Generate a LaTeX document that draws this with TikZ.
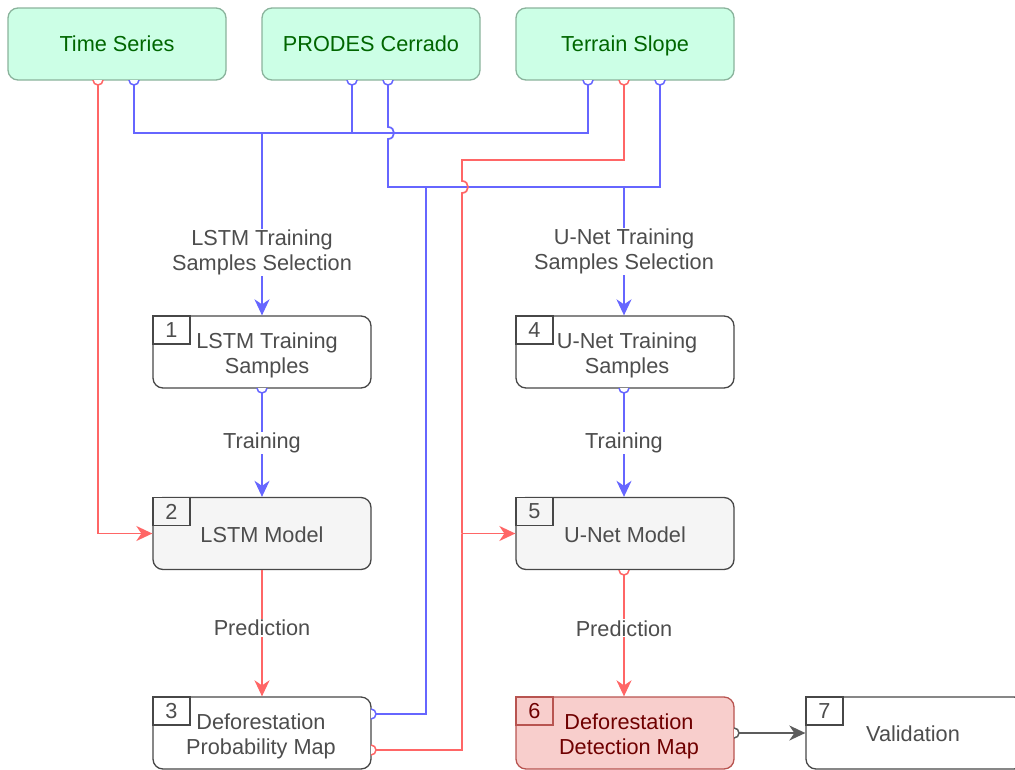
\documentclass[tikz,border=0pt]{standalone}
\usepackage{fontspec}
\setmainfont{Liberation Sans}
\usetikzlibrary{arrows.meta}
\definecolor{gfill}{HTML}{CCFFE6}
\definecolor{gdraw}{HTML}{8AB39C}
\definecolor{gtext}{HTML}{006600}
\definecolor{bline}{HTML}{6666FF}
\definecolor{rline}{HTML}{FF6666}
\definecolor{txt}{HTML}{4D4D4D}
\definecolor{bord}{HTML}{474747}
\definecolor{lgray}{HTML}{F5F5F5}
\definecolor{rfill}{HTML}{F8CECC}
\definecolor{rdraw}{HTML}{B85450}
\definecolor{rtext}{HTML}{6F0000}
\definecolor{garrow}{HTML}{5C5C5C}
\tikzset{
  boxbase/.style={rectangle, rounded corners=10pt, minimum width=218pt, minimum height=72pt, line width=1.3pt, align=center, font=\fontsize{21.7}{25}\selectfont, inner sep=0pt, text height=15.5pt, text depth=0pt},
  srcbox/.style={boxbase, fill=gfill, draw=gdraw, text=gtext},
  procbox/.style={boxbase, fill=white, draw=bord, text=txt},
  modelbox/.style={boxbase, fill=lgray, draw=bord, text=txt},
  outbox/.style={boxbase, fill=rfill, draw=rdraw, text=rtext},
  numbox/.style={rectangle, anchor=north west, minimum width=37pt, minimum height=28pt, line width=1.3pt, inner sep=0pt, font=\fontsize{21.7}{25}\selectfont},
  conn/.style={line width=1.7pt},
  arrtip/.style={-{Stealth[length=16pt,width=15pt,inset=5pt]}},
  lab/.style={fill=white, text=txt, align=center, font=\fontsize{21.7}{25}\selectfont, inner sep=1pt},
  portc/.style={circle, minimum size=10pt, inner sep=0pt, line width=1.5pt, fill=white},
  boxtext/.style={align=center, font=\fontsize{21.7}{25}\selectfont},
  onetext/.style={boxtext, text height=15.5pt, text depth=0pt}
}
\begin{document}
\begin{tikzpicture}[x=1pt,y=-1pt]
\useasboundingbox (0,0) rectangle (1015,769);
\clip (0,0) rectangle (1015,769);
% port coordinates
\coordinate (pTSr) at (98,80);
\coordinate (pTSb) at (134,80);
\coordinate (pPRa) at (352,80);
\coordinate (pPRb) at (388,80);
\coordinate (pTEa) at (588,80);
\coordinate (pTEr) at (624,80);
\coordinate (pTEc) at (660,80);
\coordinate (j1) at (262,133);
\coordinate (j2) at (624,187);
\coordinate (j3) at (426,187);
\coordinate (k1) at (388,127);
\coordinate (k2) at (388,139);
\coordinate (r1) at (462,160);
\coordinate (r2) at (462,181);
\coordinate (r3) at (462,193);
\coordinate (j4) at (462,533.5);
\coordinate (j5) at (98,533.5);
\coordinate (pB1) at (262,388);
\coordinate (pB1s) at (262,393);
\coordinate (pB2) at (262,570);
\coordinate (pB3b) at (371,714);
\coordinate (pB3r) at (371,750);
\coordinate (pB4) at (624,388);
\coordinate (pB4s) at (624,393);
\coordinate (pB5) at (624,570);
\coordinate (pB5s) at (624,575);
\coordinate (pB6) at (734,733);
\coordinate (pB6s) at (739,733);
% connectors
\begin{scope}[conn, draw=bline]
  \draw (pTSb) |- (j1);
  \draw (pPRa) |- (j1);
  \draw (pTEa) |- (j1);
  \draw (pPRb) -- (k1) .. controls (396,127) and (396,139) .. (k2) |- (j2);
  \draw (pTEc) |- (j2);
  \draw (pB3b) -| (j3);
\end{scope}
\begin{scope}[conn, draw=rline]
  \draw (pTSr) -- (j5);
  \draw (pTEr) |- (r1) -- (r2) .. controls (470,181) and (470,193) .. (r3) -- (j4);
  \draw (pB3r) -| (j4);
\end{scope}
% boxes
\node[srcbox] (ts) at (117,44) {Time Series};
\node[srcbox] (pr) at (371,44) {PRODES Cerrado};
\node[srcbox] (te) at (625,44) {Terrain Slope};
\node[procbox] (b1) at (262,352) {};
\node[modelbox] (b2) at (262,533.5) {};
\node[procbox] (b3) at (262,733) {};
\node[procbox] (b4) at (625,352) {};
\node[modelbox] (b5) at (625,533.5) {};
\node[outbox] (b6) at (625,733) {};
\node[procbox] (b7) at (915,733) {};
\node[boxtext, text=txt] (t1) at (267,355) {LSTM Training\\Samples};
\node[onetext, text=txt] (t2) at (262,535) {LSTM Model};
\node[boxtext, text=txt] (t3) at (261,736) {Deforestation\\Probability Map};
\node[boxtext, text=txt] (t4) at (627,355) {U-Net Training\\Samples};
\node[onetext, text=txt] (t5) at (625,535) {U-Net Model};
\node[boxtext, text=rtext] (t6) at (629,736) {Deforestation\\Detection Map};
\node[onetext, text=txt] (t7) at (913,734) {Validation};
\node[numbox, draw=bord, fill=white, text=txt] (n1) at (b1.north west) {1};
\node[numbox, draw=bord, fill=lgray, text=txt] (n2) at (b2.north west) {2};
\node[numbox, draw=bord, fill=white, text=txt] (n3) at (b3.north west) {3};
\node[numbox, draw=bord, fill=white, text=txt] (n4) at (b4.north west) {4};
\node[numbox, draw=bord, fill=lgray, text=txt] (n5) at (b5.north west) {5};
\node[numbox, draw=rdraw, fill=rfill, text=rtext] (n6) at (b6.north west) {6};
\node[numbox, draw=bord, fill=white, text=txt] (n7) at (b7.north west) {7};
% arrows into boxes
\draw[conn, draw=bline, fill=bline, arrtip] (j1) -- node[lab, pos=0.655] {LSTM Training\\Samples Selection} (b1);
\draw[conn, draw=bline, fill=bline, arrtip] (j2) -- node[lab] {U-Net Training\\Samples Selection} (j2 |- b4.north);
\draw[conn, draw=bline, fill=bline, arrtip] (pB1s) -- node[lab, pos=0.48] {Training} (b2);
\draw[conn, draw=bline, fill=bline, arrtip] (pB4s) -- node[lab, pos=0.48] {Training} (pB4s |- b5.north);
\draw[conn, draw=rline, fill=rline, arrtip] (pB2) -- node[lab, pos=0.46] {Prediction} (b3);
\draw[conn, draw=rline, fill=rline, arrtip] (pB5s) -- node[lab, pos=0.44] {Prediction} (pB5s |- b6.north);
\draw[conn, draw=rline, fill=rline, arrtip] (j5) -- (b2.west);
\draw[conn, draw=rline, fill=rline, arrtip] (j4) -- (b5.west);
\draw[conn, draw=garrow, fill=garrow, arrtip] (pB6s) -- (b7.west);
% open oval ends (half hidden by the boxes)
\begin{scope}
  \clip (0,80) rectangle (1015,200);
  \foreach \p/\c in {pTSr/rline, pTSb/bline, pPRa/bline, pPRb/bline, pTEa/bline, pTEr/rline, pTEc/bline}
    \node[portc, draw=\c] at (\p) {};
\end{scope}
\begin{scope}
  \clip (0,388) rectangle (1015,420);
  \node[portc, draw=bline] at (pB1) {};
  \node[portc, draw=bline] at (pB4) {};
\end{scope}
\begin{scope}
  \clip (0,570) rectangle (1015,600);
  \node[portc, draw=rline] at (pB5) {};
\end{scope}
\begin{scope}
  \clip (371,690) rectangle (400,769);
  \node[portc, draw=bline] at (pB3b) {};
  \node[portc, draw=rline] at (pB3r) {};
\end{scope}
\begin{scope}
  \clip (734,690) rectangle (760,769);
  \node[portc, draw=garrow] at (pB6) {};
\end{scope}
\end{tikzpicture}
\end{document}
